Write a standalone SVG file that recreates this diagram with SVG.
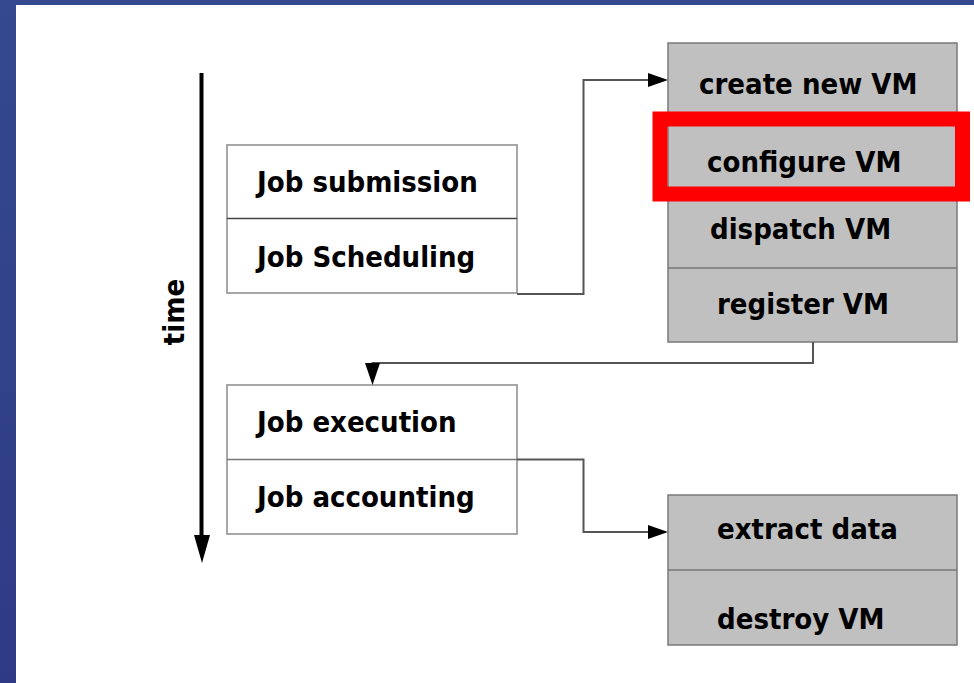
<svg xmlns="http://www.w3.org/2000/svg" width="974" height="683" viewBox="0 0 974 683">
<defs>
<linearGradient id="bg" x1="0" y1="0" x2="0" y2="1">
<stop offset="0" stop-color="#34498f"/>
<stop offset="1" stop-color="#2f3a86"/>
</linearGradient>
</defs>
<style>
.t{font-family:"DejaVu Sans Condensed","DejaVu Sans",sans-serif;font-stretch:condensed;font-weight:bold;font-size:29px;fill:#000}
.wb{fill:#fff;stroke:#8a8a8a;stroke-width:1.5}
.gb{fill:#c0c0c0;stroke:#7a7a7a;stroke-width:1.5}
.dl{stroke:#444;stroke-width:1.5}
.gl{stroke:#777;stroke-width:1.5}
.cn{fill:none;stroke:#555;stroke-width:2}
</style>
<rect x="0" y="0" width="974" height="683" fill="url(#bg)"/>
<rect x="16" y="5" width="958" height="678" fill="#fff"/>

<g id="time-axis">
<line x1="201.5" y1="73" x2="201.5" y2="540" stroke="#000" stroke-width="4"/>
<path d="M194,535 L210,535 L202,563 z" fill="#000"/>
<text class="t" transform="translate(184,312) rotate(-90)" text-anchor="middle">time</text>
</g>

<g id="job-submit">
<rect class="wb" x="227" y="145" width="290" height="148"/>
<line class="dl" x1="227" y1="218.5" x2="517" y2="218.5"/>
<text class="t" x="257" y="192">Job submission</text>
<text class="t" x="257" y="267">Job Scheduling</text>
</g>

<g id="job-exec">
<rect class="wb" x="227" y="385" width="290" height="149"/>
<line class="gl" x1="227" y1="459.5" x2="517" y2="459.5"/>
<text class="t" x="257" y="432">Job execution</text>
<text class="t" x="257" y="507">Job accounting</text>
</g>

<g id="vm-setup">
<rect class="gb" x="668" y="43" width="289" height="299"/>
<line class="gl" x1="668" y1="118" x2="957" y2="118"/>
<line class="gl" x1="668" y1="192.5" x2="957" y2="192.5"/>
<line class="gl" x1="668" y1="268" x2="957" y2="268"/>
<text class="t" x="699" y="94">create new VM</text>
<text class="t" x="707" y="172">configure VM</text>
<text class="t" x="710" y="239">dispatch VM</text>
<text class="t" x="717" y="314">register VM</text>
</g>

<g id="highlight">
<rect x="660" y="119" width="302.5" height="75" fill="none" stroke="#ff0000" stroke-width="15"/>
</g>

<g id="vm-teardown">
<rect class="gb" x="668" y="495" width="289" height="150"/>
<line class="gl" x1="668" y1="570" x2="957" y2="570"/>
<text class="t" x="717" y="539">extract data</text>
<text class="t" x="717" y="629">destroy VM</text>
</g>

<g id="connectors">
<polyline class="cn" points="517,294 583.5,294 583.5,80 650,80"/>
<path d="M648,73 L668,80 L648,87 z" fill="#000"/>
<polyline class="cn" points="813,342 813,363 372.5,363 372.5,368"/>
<path d="M365,363 L380,363 L372.5,385 z" fill="#000"/>
<polyline class="cn" points="517,459.5 583.5,459.5 583.5,532 650,532"/>
<path d="M648,525 L668,532 L648,539 z" fill="#000"/>
</g>
</svg>
